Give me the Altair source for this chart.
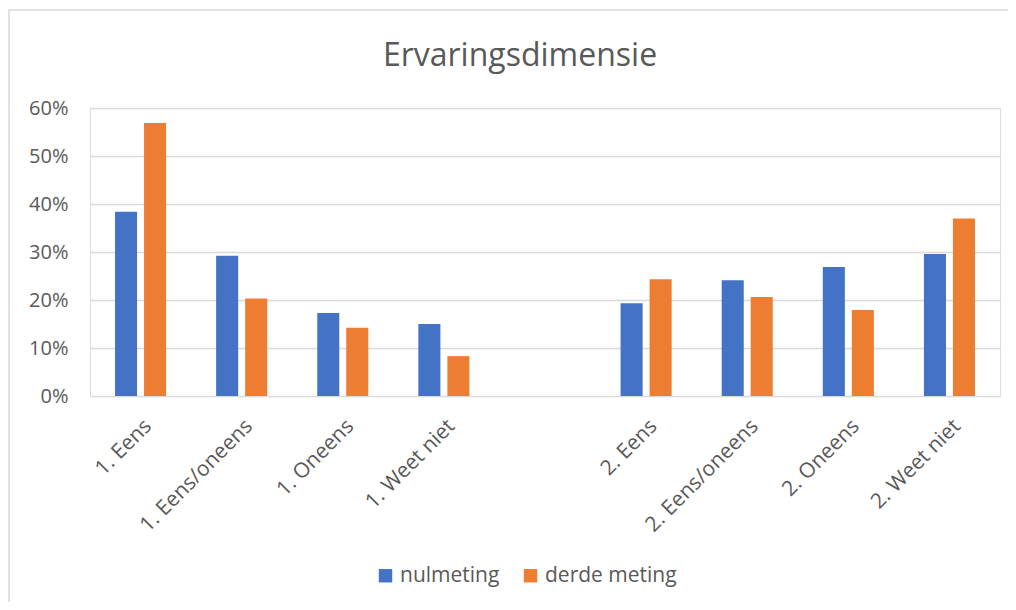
import altair as alt
import pandas as pd

categories = ["1. Eens", "1. Eens/oneens", "1. Oneens", "1. Weet niet",
              "2. Eens", "2. Eens/oneens", "2. Oneens", "2. Weet niet"]
nulmeting = [0.384, 0.292, 0.173, 0.150, 0.193, 0.241, 0.269, 0.296]
derde_meting = [0.569, 0.203, 0.142, 0.083, 0.243, 0.206, 0.179, 0.370]
series = ["nulmeting", "derde meting"]
y_ticks = [0, 0.1, 0.2, 0.3, 0.4, 0.5, 0.6]
title_text = "Ervaringsdimensie"

# category axis with an empty slot between the two groups
domain = categories[:4] + [" "] + categories[4:]

rows = []
for c, a, b in zip(categories, nulmeting, derde_meting):
    rows.append({"cat": c, "serie": series[0], "val": a})
    rows.append({"cat": c, "serie": series[1], "val": b})
df = pd.DataFrame(rows)

FONT = "Open Sans"
GRAY = "#595959"

bars = alt.Chart(df).mark_bar().encode(
    x=alt.X("cat:N", scale=alt.Scale(domain=domain, paddingInner=0.495, paddingOuter=0.2475),
            axis=alt.Axis(title=None, labelAngle=-45, labelAlign="right", labelBaseline="top",
                          labelPadding=19, labelFontSize=21, labelColor=GRAY, labelFont=FONT,
                          domain=False, ticks=False, labelLimit=300)),
    xOffset=alt.XOffset("serie:N", sort=series, scale=alt.Scale(paddingInner=0.24, paddingOuter=0)),
    y=alt.Y("val:Q", scale=alt.Scale(domain=[0, 0.6], nice=False),
            axis=alt.Axis(title=None, format=".0%", values=y_ticks, labelFontSize=20,
                          labelColor=GRAY, labelFont=FONT, labelPadding=22,
                          domain=False, ticks=False, gridColor="#d9d9d9", gridWidth=1.5)),
    color=alt.Color("serie:N", sort=series,
                    scale=alt.Scale(domain=series, range=["#4472C4", "#ED7D31"]),
                    legend=alt.Legend(title=None, orient="none", direction="horizontal",
                                      legendX=285, legendY=457, symbolType="square",
                                      symbolSize=180, symbolStrokeWidth=0, labelFontSize=21,
                                      labelColor=GRAY, labelFont=FONT, columnPadding=20,
                                      labelOffset=4)),
)

frame = alt.Chart(pd.DataFrame({"k": [0]})).mark_rect(
    fill=None, stroke="#d9d9d9", strokeWidth=1.5
).encode(x=alt.value(-81), x2=alt.value(1100), y=alt.value(-98), y2=alt.value(700))

title = alt.Chart(pd.DataFrame({"t": [title_text]})).mark_text(
    font=FONT, fontSize=32, color=GRAY, align="center", baseline="alphabetic"
).encode(text="t:N", x=alt.value(430), y=alt.value(-42))

chart = alt.layer(frame, bars, title).properties(
    width=910, height=288,
    autosize=alt.AutoSizeParams(type="none"),
    padding={"left": 82, "top": 100, "right": 8, "bottom": 206},
).configure_view(stroke=None).configure(background="white")

chart.save("out.html", embed_options={"renderer": "svg", "actions": False})
